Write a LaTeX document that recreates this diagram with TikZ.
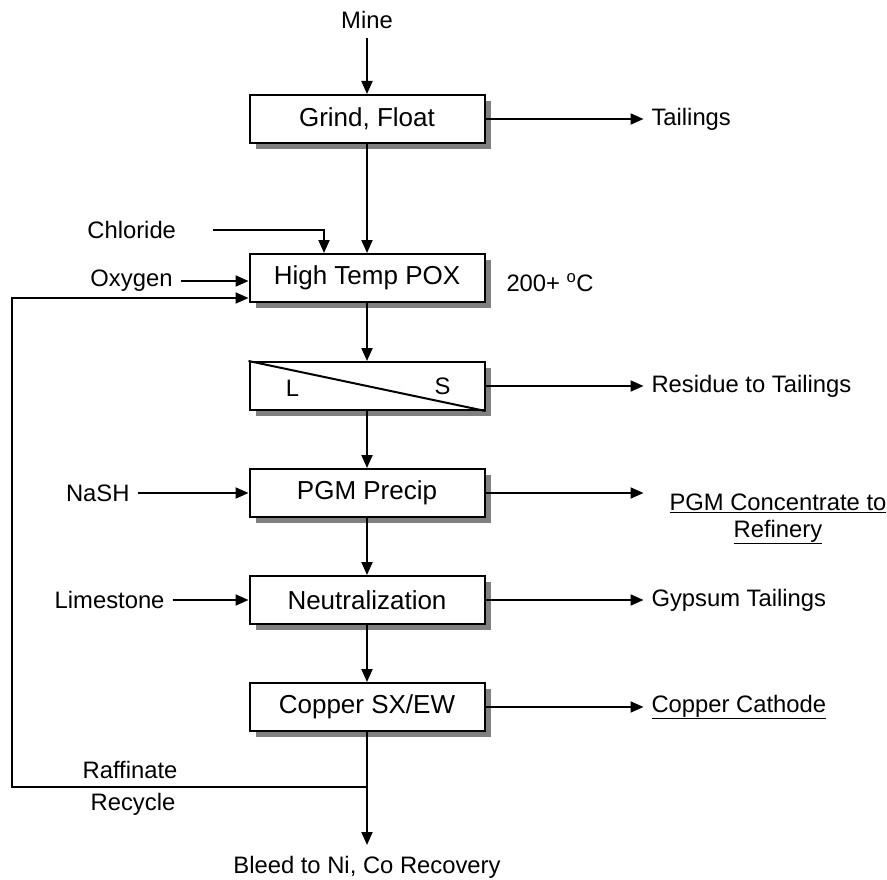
\documentclass[tikz,border=0pt]{standalone}
\usepackage{fontspec}
\setmainfont{Liberation Sans}
\usetikzlibrary{arrows.meta,positioning,shadows}

\begin{document}
\begin{tikzpicture}[
  x=1pt, y=-1pt, >={Triangle[length=13pt,width=11pt]}, line width=2pt,
  every node/.style={font=\fontsize{23.8}{27}\selectfont},
  unit/.style={draw, fill=white, minimum width=235pt, minimum height=48pt,
               font=\fontsize{26}{30}\selectfont,
               general shadow={fill=black!50, shadow xshift=6pt, shadow yshift=-6pt}},
  lbl/.style={inner xsep=7pt, inner ysep=2pt}
]
  \useasboundingbox (0,0) rectangle (887,880);
  % main train
  \node[unit] (grind) at (367,119) {Grind, Float};
  \node[unit, below=109pt of grind] (pox) {High Temp POX};
  \node[unit, below=58pt of pox] (ls) {};
  \node[unit, below=57pt of ls] (pgm) {PGM Precip};
  \node[unit, below=57pt of pgm] (neut) {Neutralization};
  \node[unit, below=57pt of neut] (copper) {Copper SX/EW};
  \draw (ls.north west) -- (ls.south east);
  \node (liq) at ([xshift=44pt,yshift=-2pt]ls.west) {L};
  \node (sol) at ([xshift=-43pt]ls.east) {S};
  \node[lbl, above=62pt of grind] (mine) {Mine};
  \coordinate[below=55pt of copper] (junc);
  \coordinate[left=355pt of junc] (corner);
  \node[lbl, below=66pt of junc] (bleed) {Bleed to Ni, Co Recovery};
  % feeds on the left
  \node[lbl, anchor=east] (chl) at (184,230) {Chloride};
  \node[lbl, left=68pt of pox, yshift=-3pt] (oxy) {Oxygen};
  \node[lbl, left=111pt of pgm] (nash) {NaSH};
  \node[lbl, left=76pt of neut] (lime) {Limestone};
  \node[lbl] (raff) at (130,770) {Raffinate};
  \node[lbl] (recy) at (133,804) {Recycle};
  \node[lbl, right=13pt of pox, yshift=-5pt] (temp) {200+ \textsuperscript{o}C};
  % products on the right
  \node[lbl, right=158pt of grind] (tail) {Tailings};
  \node[lbl, right=158pt of ls] (resid) {Residue to Tailings};
  \coordinate[right=158pt of pgm] (pgmend);
  \node[lbl, right=176pt of pgm, yshift=-26pt, align=center] (conc)
    {\underline{PGM Concentrate to}\\\underline{Refinery}};
  \node[lbl, right=158pt of neut] (gyp) {Gypsum Tailings};
  \node[lbl, right=158pt of copper] (cath) {\underline{Copper Cathode}};
  % flows
  \draw[->, shorten <=6pt] (mine) -- (grind);
  \draw[->] (grind) -- (pox);
  \draw[->] (pox) -- (ls);
  \draw[->] (ls) -- (pgm);
  \draw[->] (pgm) -- (neut);
  \draw[->] (neut) -- (copper);
  \draw[->, shorten >=8pt] (copper) -- (bleed);
  \draw[->] (junc) -- (corner) |- ([yshift=5pt]pox.south west);
  \draw[->] ([xshift=29pt]chl.east) -| ([xshift=-43pt]pox.north);
  \draw[->] (oxy) -- (oxy -| pox.west);
  \draw[->] (nash) -- (pgm);
  \draw[->] (lime) -- (neut);
  \draw[->] (grind) -- (tail);
  \draw[->] (ls) -- (resid);
  \draw[->] (pgm) -- (pgmend);
  \draw[->] (neut) -- (gyp);
  \draw[->] (copper) -- (cath);
\end{tikzpicture}
\end{document}
